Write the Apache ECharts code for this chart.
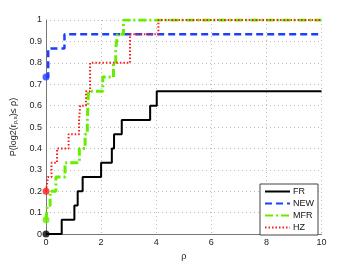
<!DOCTYPE html>
<html><head><meta charset="utf-8">
<script src="https://cdn.jsdelivr.net/npm/echarts@6/dist/echarts.min.js"></script>
<style>html,body{margin:0;padding:0;background:#fff}#c{width:354px;height:266px}</style>
</head><body><div id="c"></div>
<script>
const seriesNames = ['FR','NEW','MFR','HZ'];
const xTicks = [0,2,4,6,8,10];
const yTicks = [0,0.1,0.2,0.3,0.4,0.5,0.6,0.7,0.8,0.9,1];
const FR = [[0,0],[0.57,0.0667],[1.03,0.1333],[1.15,0.2],[1.33,0.2667],[2.0,0.3333],[2.39,0.4],[2.47,0.4667],[2.75,0.5333],[3.78,0.6],[4.02,0.6667],[10,0.6667]];
const NEW = [[0,0.7333],[0.08,0.8667],[0.67,0.9333],[10,0.9333]];
const MFR = [[0,0.0667],[0.05,0.1333],[0.15,0.2],[0.36,0.2667],[0.69,0.3333],[1.21,0.4],[1.42,0.4667],[1.5,0.5333],[1.54,0.6667],[2.06,0.7333],[2.45,0.8],[2.53,0.8667],[2.6,0.9333],[2.81,1],[10,1]];
const HZ = [[0,0.2],[0.07,0.2667],[0.2,0.3333],[0.4,0.4],[0.82,0.4667],[1.2,0.5333],[1.24,0.6],[1.45,0.6667],[1.6,0.8],[3.05,0.9333],[4.08,1],[10,1]];

const colors = ['#000000','#1f3fff','#66ee00','#ff1a1a'];
const styles = [
  {type:'solid', width:2},
  {type:[7,4], width:2.5},
  {type:[8,3,2,3], width:3},
  {type:[1.5,2], width:2}
];
const datas = [FR, NEW, MFR, HZ];
const font = 'Liberation Sans, Arial, sans-serif';

const series = [];
datas.forEach((d,i)=>{
  series.push({
    name: seriesNames[i], type:'line', step:'end', data:d, symbol:'none', legendIcon:'none',
    lineStyle:{color:colors[i], type:styles[i].type, width:styles[i].width},
    itemStyle:{color:colors[i]}, z: 2+i, animation:false
  });
});
datas.forEach((d,i)=>{
  series.push({
    type:'scatter', data:[d[0]], symbol:'circle', symbolSize:7,
    itemStyle:{color:colors[i]}, z: 10, animation:false, silent:true
  });
});

const chart = echarts.init(document.getElementById('c'), null, {renderer:'canvas'});
chart.setOption({
  animation:false,
  grid:{left:46, right:32.5, top:20, bottom:29.5, containLabel:false},
  xAxis:{type:'value', min:0, max:10, interval:2,
    name:'ρ', nameLocation:'middle', nameGap:14,
    nameTextStyle:{fontFamily:font, fontSize:9, color:'#222'},
    axisLine:{show:true, lineStyle:{color:'#777', width:1}},
    axisTick:{show:false},
    axisLabel:{fontFamily:font, fontSize:9, color:'#222', margin:4},
    splitLine:{show:true, lineStyle:{color:'#bbb', type:[1,3], width:1}}
  },
  yAxis:{type:'value', min:0, max:1, interval:0.1,
    name:'{a|P(log2(r}{s|p,s}{a|)≤ ρ)}', nameLocation:'middle', nameGap:26,
    nameTextStyle:{rich:{a:{fontFamily:font, fontSize:9, color:'#222'}, s:{fontFamily:font, fontSize:6, color:'#222', verticalAlign:'bottom', padding:[4,0,0,0]}}},
    axisLine:{show:true, lineStyle:{color:'#777', width:1}},
    axisTick:{show:false},
    axisLabel:{fontFamily:font, fontSize:9, color:'#222', margin:4, formatter:v=>String(Math.round(v*10)/10)},
    splitLine:{show:true, lineStyle:{color:'#bbb', type:[1,3], width:1}}
  },
  legend:{
    data:seriesNames, orient:'vertical', right:36, bottom:31,
    backgroundColor:'#fff', borderColor:'#444', borderWidth:1, borderRadius:0,
    padding:[3,4,3,4], itemGap:3, itemWidth:25, itemHeight:9,
    itemStyle:{opacity:0},
    textStyle:{fontFamily:font, fontSize:9, color:'#111', padding:[0,0,0,-2]}
  },
  series
});
</script></body></html>
